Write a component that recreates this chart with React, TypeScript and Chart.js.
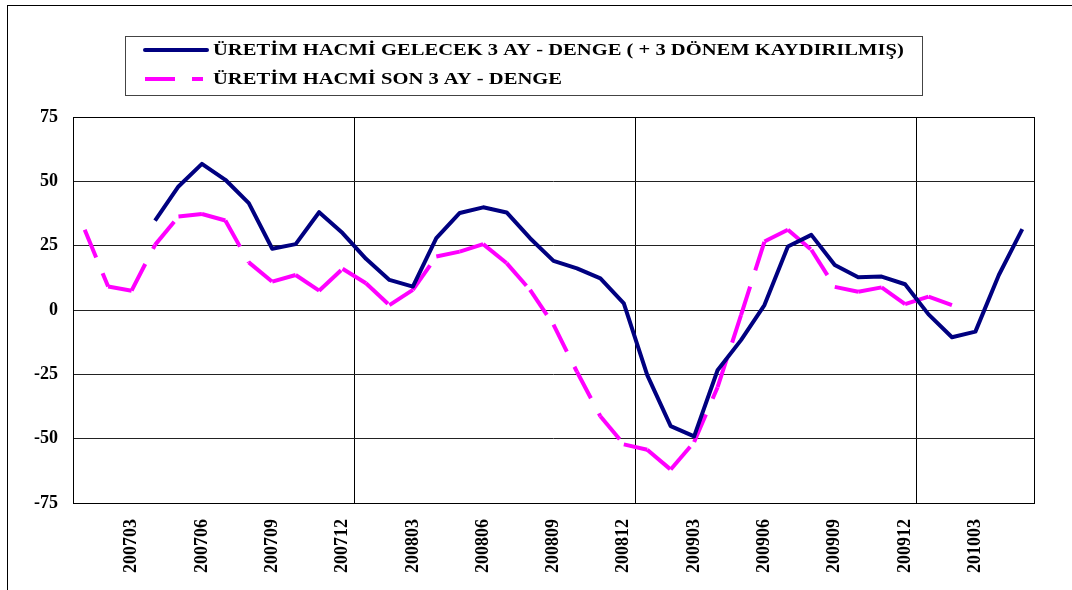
import React, { useEffect, useRef } from "react";
import { Chart, registerables } from "chart.js";

Chart.register(...registerables);

const categories = [
  "200701", "200702", "200703", "200704", "200705", "200706", "200707", "200708", "200709", "200710", "200711", "200712",
  "200801", "200802", "200803", "200804", "200805", "200806", "200807", "200808", "200809", "200810", "200811", "200812",
  "200901", "200902", "200903", "200904", "200905", "200906", "200907", "200908", "200909", "200910", "200911", "200912",
  "201001", "201002", "201003", "201004", "201005",
];

const tickLabels = [
  "200703", "200706", "200709", "200712", "200803", "200806", "200809", "200812",
  "200903", "200906", "200909", "200912", "201003",
];

const yTicks = [-75, -50, -25, 0, 25, 50, 75];

const seriesNames = [
  "ÜRETİM HACMİ GELECEK 3 AY - DENGE ( + 3 DÖNEM KAYDIRILMIŞ)",
  "ÜRETİM HACMİ SON 3 AY - DENGE",
];

const futureBalance = [
  null, null, null, 34.7, 48, 56.8, 50.6, 41.5, 23.8, 25.6, 38, 29.9,
  19.9, 11.7, 9.1, 27.9, 37.7, 39.9, 37.9, 27.9, 19.1, 16.2, 12.3, 2.6,
  -25.3, -45.1, -49.1, -23.4, -11.7, 1.9, 24.7, 29.2, 17.5, 12.7, 13, 10,
  -1.7, -10.6, -8.4, 13.6, 31.4,
];

const pastBalance = [
  31.2, 9.1, 7.5, 25.3, 36.3, 37.3, 34.8, 18.5, 11, 13.6, 7.5, 16,
  10.4, 1.9, 7.8, 20.8, 22.7, 25.6, 18.2, 7.8, -5.7, -24, -41.3, -52.2,
  -54.3, -62, -51.3, -30, -2, 26.6, 31.2, 23.4, 9, 7.1, 8.8, 2.3,
  5.2, 1.9, null, null, null,
];

const FONT = '"Liberation Serif", "Times New Roman", serif';
const NAVY = "#000080";
const PINK = "#FF00FF";
const DASH = [30, 17];

const framePlugin = {
  id: "framePlugin",
  beforeDatasetsDraw(chart: any) {
    const { ctx, chartArea } = chart;
    ctx.save();
    ctx.strokeStyle = "#000";
    ctx.lineWidth = 1;
    ctx.strokeRect(
      Math.round(chartArea.left) + 0.5,
      Math.round(chartArea.top) + 0.5,
      Math.round(chartArea.right - chartArea.left),
      Math.round(chartArea.bottom - chartArea.top)
    );
    ctx.restore();
  },
  afterDraw(chart: any) {
    const { ctx } = chart;
    ctx.save();
    // outer chart frame
    ctx.strokeStyle = "#000";
    ctx.lineWidth = 1;
    ctx.strokeRect(7.5, 5.5, 1200, 800);
    // legend box
    ctx.strokeStyle = "#444";
    ctx.strokeRect(125.5, 36.5, 797, 59);
    const rows = [50, 79];
    chart.data.datasets.forEach((ds: any, i: number) => {
      const y = rows[i];
      ctx.beginPath();
      ctx.lineWidth = 4;
      ctx.lineCap = i === 0 ? "round" : "butt";
      ctx.strokeStyle = ds.borderColor;
      ctx.setLineDash(i === 0 ? [] : DASH);
      ctx.moveTo(145, y);
      ctx.lineTo(i === 0 ? 207 : 203, y);
      ctx.stroke();
      ctx.setLineDash([]);
      ctx.save();
      ctx.translate(213, y + 1);
      ctx.scale(1.21, 1);
      ctx.fillStyle = "#000";
      ctx.font = `bold 17px ${FONT}`;
      ctx.textBaseline = "middle";
      ctx.textAlign = "left";
      ctx.fillText(ds.label, 0, 0);
      ctx.restore();
    });
    ctx.restore();
  },
};

export default function App() {
  const canvasRef = useRef<HTMLCanvasElement | null>(null);

  useEffect(() => {
    if (!canvasRef.current) return;
    const chart = new Chart(canvasRef.current, {
      type: "line",
      data: {
        labels: categories,
        datasets: [
          {
            label: seriesNames[0],
            data: futureBalance,
            borderColor: NAVY,
            backgroundColor: NAVY,
            borderWidth: 4,
            pointRadius: 0,
            tension: 0,
            borderJoinStyle: "round",
            borderCapStyle: "butt",
            fill: false,
          },
          {
            label: seriesNames[1],
            data: pastBalance,
            borderColor: PINK,
            backgroundColor: PINK,
            borderWidth: 4,
            borderDash: DASH,
            pointRadius: 0,
            tension: 0,
            borderCapStyle: "butt",
            borderJoinStyle: "miter",
            fill: false,
            segment: {
              borderDashOffset: (c: any) => (c.p0DataIndex % 2) * 0.001,
            },
          },
        ],
      },
      options: {
        responsive: false,
        animation: false,
        layout: { padding: { left: 0, top: 117, right: 38, bottom: 0 } },
        plugins: {
          legend: { display: false },
          tooltip: { enabled: false },
        },
        scales: {
          x: {
            type: "category",
            offset: true,
            grid: {
              offset: true,
              drawTicks: false,
              lineWidth: 1,
              color: (c: any) => {
                const lbl = categories[c.index];
                return lbl && c.index > 0 && lbl.endsWith("01") ? "#000" : "rgba(0,0,0,0)";
              },
            },
            border: { display: false },
            ticks: {
              autoSkip: false,
              maxRotation: 90,
              minRotation: 90,
              padding: 16,
              color: "#000",
              font: { family: FONT, size: 18, weight: "bold" },
              callback: (_v: any, i: number) =>
                tickLabels.includes(categories[i]) ? categories[i] : "",
            },
            afterFit: (s: any) => {
              s.height = 87;
            },
          },
          y: {
            min: -75,
            max: 75,
            afterBuildTicks: (s: any) => {
              s.ticks = yTicks.map((v) => ({ value: v }));
            },
            grid: { drawTicks: false, color: "#222", lineWidth: 1 },
            border: { display: false },
            ticks: {
              padding: 15,
              color: "#000",
              font: { family: FONT, size: 18, weight: "bold" },
            },
            afterFit: (s: any) => {
              s.width = 73;
            },
          },
        },
      },
      plugins: [framePlugin],
    } as any);
    return () => chart.destroy();
  }, []);

  return (
    <div style={{ position: "absolute", left: 0, top: 0, width: 1072, height: 590, background: "#fff" }}>
      <canvas ref={canvasRef} width={1072} height={590} style={{ display: "block" }} />
    </div>
  );
}
